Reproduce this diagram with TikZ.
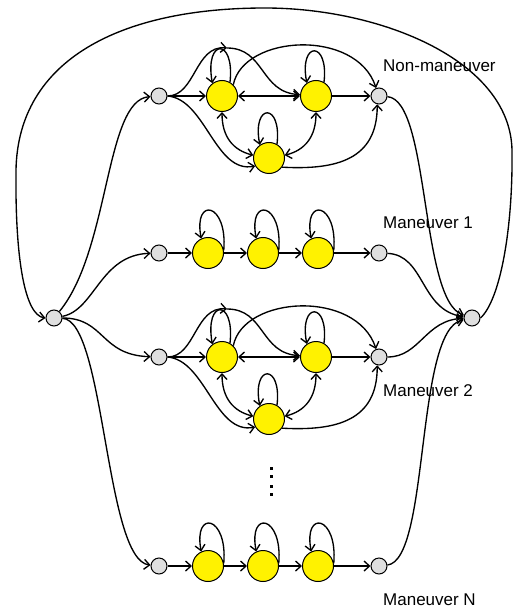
\documentclass[tikz,border=0pt]{standalone}
\usepackage{fontspec}
\setmainfont{Liberation Sans}
\usetikzlibrary{arrows.meta}
\newcommand\mycgroup[2]{%
  \node[gnode] (#1E) at (159,#2) {};
  \node[ynode] (#1A) at (222,#2) {};
  \node[ynode] (#1B) at (316,#2) {};
  \node[ynode] (#1C) at (269,{#2+62}) {};
  \node[gnode] (#1X) at (379,#2) {};
  \coordinate (#1T) at (227,{#2-48});
  \draw[conn,arr] (#1E) -- (#1A);
  \draw[conn,arr] (#1E.east) .. controls +(28,0) and +(-32,-3) .. (#1T);
  \draw[conn,arr] (#1T) .. controls +(38,0) and +(-40,-2) .. (#1B.175);
  \draw[conn,arr] (#1A.60) .. controls +(5,-45) and +(-8,-45) .. (#1A.127);
  \draw[conn,arr] (#1B.60) .. controls +(5,-42) and +(-8,-42) .. (#1B.125);
  \draw[conn,arr] (#1C.60) .. controls +(5,-42) and +(-8,-42) .. (#1C.125);
  \draw[conn,darr] (#1A) -- (#1B);
  \draw[conn,arr] (#1B) -- (#1X);
  \draw[conn,arr] (#1A.45) .. controls +(10,-50) and +(-20,-60) .. (#1X.110);
  \draw[conn,darr] (#1A.south) .. controls +(0,25) and +(-20,-5) .. (#1C.170);
  \draw[conn,darr] (#1B.south) .. controls +(0,25) and +(20,-5) .. (#1C.10);
  \draw[conn,arr] (#1E.east) .. controls +(38,3) and +(-40,8) .. (#1C.210);
  \draw[conn,arr] (#1C.-35) .. controls +(55,3) and +(0,55) .. (#1X.258);
}
\newcommand\mysgroup[2]{%
  \node[gnode] (#1E) at (159,#2) {};
  \node[ynode] (#1P) at (208,#2) {};
  \node[ynode] (#1Q) at (263,#2) {};
  \node[ynode] (#1R) at (318,#2) {};
  \node[gnode] (#1X) at (379,#2) {};
  \draw[conn,arr] (#1E) -- (#1P);
  \draw[conn,arr] (#1P) -- (#1Q);
  \draw[conn,arr] (#1Q) -- (#1R);
  \draw[conn,arr] (#1R) -- (#1X);
  \draw[conn,arr] (#1P.10) .. controls +(4,-48) and +(-8,-42) .. (#1P.115);
  \draw[conn,arr] (#1Q.10) .. controls +(4,-48) and +(-8,-42) .. (#1Q.115);
  \draw[conn,arr] (#1R.10) .. controls +(4,-48) and +(-8,-42) .. (#1R.115);
}
\begin{document}
\begin{tikzpicture}[x=1pt,y=-1pt,
  gnode/.style={circle,draw=black,line width=1pt,fill=gray!25,minimum size=16pt,inner sep=0pt},
  ynode/.style={circle,draw=black,line width=1pt,fill=yellow,minimum size=31pt,inner sep=0pt},
  conn/.style={line width=1.35pt},
  arr/.style={-{Straight Barb[length=5.5pt,width=10pt]}},
  darr/.style={{Straight Barb[length=5.5pt,width=10pt]}-{Straight Barb[length=5.5pt,width=10pt]}},
  lab/.style={anchor=base west,inner sep=0pt,font=\fontsize{17}{20}\selectfont},
  dotmark/.style={fill=black,inner sep=0pt,minimum size=3pt}]
\useasboundingbox (0,0) rectangle (513,612);
\node[gnode] (L) at (54,318) {};
\node[gnode] (R) at (472,318) {};
\mycgroup{ga}{96}
\mysgroup{gb}{253}
\mycgroup{gc}{357}
\mysgroup{gd}{566}
% from L to entries
\draw[conn,arr] (L) .. controls (110,250) and (105,100) .. (gaE);
\draw[conn,arr] (L) .. controls (95,310) and (100,255) .. (gbE);
\draw[conn,arr] (L) .. controls (105,318) and (100,355) .. (gcE);
\draw[conn,arr] (L) .. controls (105,320) and (105,560) .. (gdE);
% from exits to R
\draw[conn,arr] (gaX) .. controls (430,100) and (420,300) .. (R);
\draw[conn,arr] (gbX) .. controls (425,255) and (420,310) .. (R);
\draw[conn,arr] (gcX) .. controls (420,357) and (425,320) .. (R);
\draw[conn,arr] (gdX) .. controls (430,560) and (415,330) .. (R);
% big loop R -> L
\draw[conn,arr] (R.east) .. controls (500,300) and (513,230) .. (512,150)
  .. controls (510,60) and (380,8) .. (265,8)
  .. controls (120,8) and (18,60) .. (16,170)
  .. controls (15,260) and (25,315) .. (L.west);
% labels
\node[lab] (t1) at (383,72) {Non-maneuver};
\node[lab] (t2) at (383,229) {Maneuver 1};
\node[lab] (t3) at (383,396) {Maneuver 2};
\node[lab] (t4) at (383,605) {Maneuver N};
% vertical dots
\node[dotmark] (d1) at (271,468) {};
\node[dotmark] (d2) at (271,476) {};
\node[dotmark] (d3) at (271,486) {};
\node[dotmark] (d4) at (271,494) {};
\end{tikzpicture}
\end{document}
